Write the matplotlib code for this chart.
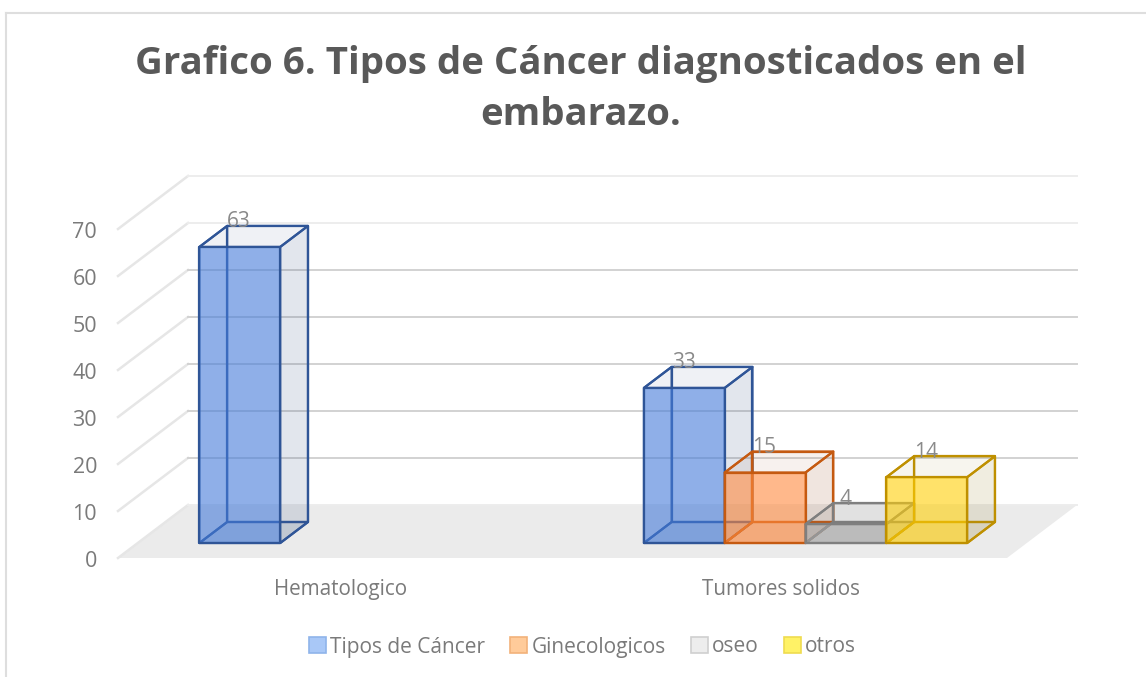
import matplotlib
matplotlib.use("Agg")
import matplotlib.pyplot as plt
from matplotlib.patches import Polygon, Patch
from matplotlib.lines import Line2D
from matplotlib.colors import to_rgba
from matplotlib.transforms import ScaledTranslation

plt.rcParams['font.family'] = ['Open Sans', 'DejaVu Sans']

# ---- data ----
categories = ["Hematologico", "Tumores solidos"]
series_names = ["Tipos de Cáncer", "Ginecologicos", "oseo", "otros"]
tipos_cancer = [63, 33]
ginecologicos = [None, 15]
oseo = [None, 4]
otros = [None, 14]
yticks = [0, 10, 20, 30, 40, 50, 60, 70]
title = "Grafico 6. Tipos de Cáncer diagnosticados en el\nembarazo."

# ---- style ----
fill_colors = ["#447BD9", "#FF8A3E", "#A5A5A5", "#FFCF07"]
side_colors = ["#3E5887", "#9B522A", "#707070", "#9B8730"]
edge_colors = ["#2F5597", "#C55A11", "#7F7F7F", "#BF9000"]
legend_fill = ["#A9C8F7", "#FFCB9A", "#EDEDED", "#FFF266"]
legend_edge = ["#8FB4EA", "#F2B27A", "#D0D0D0", "#EFDC50"]
text_color = "#7A7A7A"

W, H = 1146, 677
fig = plt.figure(figsize=(W / 100, H / 100), dpi=100)
# front plane of the pseudo-3D box
L, R, B, T = 118, 1007, 558, 229
ax = fig.add_axes([L / W, 1 - B / H, (R - L) / W, (B - T) / H])
ax.set_xlim(0, 2)
ax.set_ylim(0, 70)
ax.patch.set_alpha(0)
for s in ax.spines.values():
    s.set_visible(False)

# depth of the box, in data units
DX = 70 / ((R - L) / 2)
DY = 53 / ((B - T) / 70)


def proj(x, v, d):
    return (x + d * DX, v + d * DY)


# floor
ax.add_patch(Polygon([proj(0, 0, 0), proj(2, 0, 0), proj(2, 0, 1), proj(0, 0, 1)],
                     closed=True, fc="#EBEBEB", ec="none", zorder=1, clip_on=False))
# gridlines on walls
for t in yticks:
    xs, ys = zip(proj(0, t, 0), proj(0, t, 1))
    ax.add_line(Line2D(xs, ys, color="#E6E6E6", lw=1.8, zorder=1.5, clip_on=False))
    xs, ys = zip(proj(0, t, 1), proj(2, t, 1))
    c = "#EDEDED" if t in (0, 60, 70) else "#D2D2D2"
    ax.add_line(Line2D(xs, ys, color=c, lw=1.4, zorder=1.5, clip_on=False))

# bars
all_series = [tipos_cancer, ginecologicos, oseo, otros]
n = len(all_series)
gap = 1.5
bw = 1 / (n + gap)
shift = 2 / (R - L)
d0, d1 = 15 / 53, 36 / 53
z = 2.0
for si, vals in enumerate(all_series):
    for ci, v in enumerate(vals):
        if v is None:
            continue
        x0 = ci + (gap / 2 + si) * bw + shift
        x1 = x0 + bw
        faces = [
            ([proj(x0, 0, d1), proj(x1, 0, d1), proj(x1, v, d1), proj(x0, v, d1)], side_colors[si], 0.0),  # back
            ([proj(x0, 0, d0), proj(x0, 0, d1), proj(x0, v, d1), proj(x0, v, d0)], side_colors[si], 0.0),  # left
            ([proj(x0, 0, d0), proj(x1, 0, d0), proj(x1, 0, d1), proj(x0, 0, d1)], side_colors[si], 0.10),  # bottom
            ([proj(x1, 0, d0), proj(x1, 0, d1), proj(x1, v, d1), proj(x1, v, d0)], side_colors[si], 0.15),  # right
            ([proj(x0, v, d0), proj(x1, v, d0), proj(x1, v, d1), proj(x0, v, d1)], side_colors[si], 0.08),  # top
            ([proj(x0, 0, d0), proj(x1, 0, d0), proj(x1, v, d0), proj(x0, v, d0)], fill_colors[si], 0.60),  # front
        ]
        for pts, col, a in faces:
            ax.add_patch(Polygon(pts, closed=True, fc=to_rgba(col, a),
                                 ec=edge_colors[si], lw=1.6, joinstyle="round",
                                 zorder=z, clip_on=False))
            z += 0.01
        lx, ly = proj(x0, v, d1)
        ax.annotate(str(v), (lx, ly), xytext=(8.6, 3), textcoords="offset points",
                    ha="center", va="center", fontsize=15, color="#8A8A8A",
                    zorder=20, annotation_clip=False)

# axes ticks
ax.set_yticks(yticks)
ax.set_xticks([0.5, 1.492])
ax.set_xticklabels(categories)
ax.tick_params(axis="both", length=0, labelcolor=text_color)
ax.tick_params(axis="y", pad=15, labelsize=15.5)
ax.tick_params(axis="x", pad=15, labelsize=14.9)
for lbl in ax.get_yticklabels():
    lbl.set_va("top")
    lbl.set_transform(lbl.get_transform() + ScaledTranslation(0, 5.25 / 72, fig.dpi_scale_trans))

# title
fig.text(580.5 / W, 1 - 89.5 / H, title, ha="center", va="center", fontsize=27.6,
         fontweight="bold", color="#595959", linespacing=1.48)

# legend
handles = [Patch(fc=f, ec=e, lw=1.2, label=nm)
           for f, e, nm in zip(legend_fill, legend_edge, series_names)]
fig.legend(handles=handles, loc="center", bbox_to_anchor=(582.5 / W, 1 - 647 / H), ncol=4,
           frameon=False, fontsize=15, labelcolor=text_color, handlelength=0.82,
           handleheight=0.82, handletextpad=0.2, columnspacing=1.2, borderpad=0)

# chart frame
frame = dict(color="#DEDEDE", lw=1.5, transform=fig.transFigure)
fig.add_artist(Line2D([5.5 / W, 5.5 / W], [0, 1 - 13 / H], **frame))
fig.add_artist(Line2D([5.5 / W, 1], [1 - 13 / H, 1 - 13 / H], **frame))

fig.savefig("out.png", dpi=100)
